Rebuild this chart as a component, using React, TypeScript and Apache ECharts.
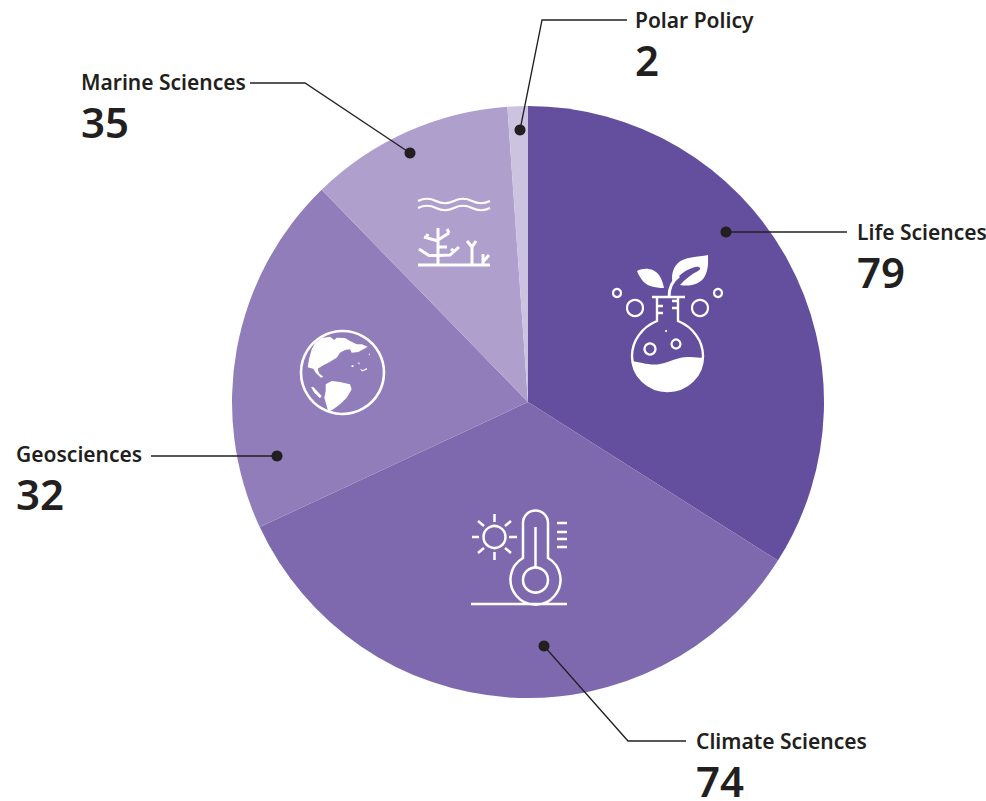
import React, { useEffect, useRef } from "react";
import * as echarts from "echarts";

const categories = ["Life Sciences", "Climate Sciences", "Geosciences", "Marine Sciences", "Polar Policy"];
// Numbers printed beside each slice.
const printedValues = [79, 74, 32, 35, 2];
// Slice sizes (degrees): the reference's wedges are not proportional to the printed numbers.
const sliceSpans = [122.4, 122.6, 70.8, 40.2, 4];
const sliceColors = ["#634f9d", "#7e69ae", "#907dba", "#ae9fcd", "#cbc3e0"];

const labelAnchors = [[857, 232], [696, 741], [16, 454], [81, 82], [635, 20]];
const leaders = [
  [[847, 232], [726, 232]],
  [[686, 741], [628, 741], [544, 646]],
  [[151, 456], [277, 456]],
  [[250, 83], [305, 83], [410, 153]],
  [[627, 20], [542, 20], [520, 130]],
];

const FONT = "'Noto Sans', 'Open Sans', sans-serif";
const INK = "#231f20";

const flaskFill = "M708 255 C698 257 684 257 678 263 C672 269 671 277 673 284 C677 276 685 270 695 267 C700 266 702 269 698 271 C692 274 685 279 680 285 C690 287 701 284 705 276 C709 268 708 260 708 255 Z " +
  "M637 271 C644 267 654 268 659 275 C662 279 663 284 664 288 C655 288 646 286 642 280 C640 277 638 274 637 271 Z " +
  "M632 361 C640 362 650 366 660 364 C670 362 680 356 690 357 C695 357 700 358 703 358 C702 376 686 391 667 391 C648 391 633 377 632 361 Z";
const flaskStroke = "M652 297 H685 M657 297 V321 C642 327 632 341 632 356 C632 376 648 391 667.5 391 C687 391 703 376 703 356 C703 341 693 327 678 321 V297 M657 306 H663 M657 313 H663 M678 301 H672 M678 308 H672";
const stemStroke = "M669 297 C669 288 672 281 679 276";
const thermoStroke = "M523 558 V523 A12.5 12.5 0 0 1 548 523 V558 A25 25 0 1 1 523 558 Z M535.5 527 V567 M471 604 H567 M557 523 H567 M557 532 H567 M557 539 H567 M557 547 H567 " +
  "M472 537 H479 M509 537 H517 M494.5 514 V522 M494.5 552 V560 M478 521 L484 526 M511 521 L505 526 M478 553 L484 548 M511 553 L505 548";
const globeLand = "M321.7 338 L330 336.7 L334.3 340 L336.7 337.7 L345 338 L350 341 L356.7 344.3 L361.7 344.3 L367.7 346.7 L363.3 349.3 L358.3 352 L351.7 352.7 L350 349.3 L345 350 L340 352.7 L336.7 357.7 L328.3 362.7 L323.3 365.3 L317.7 368.7 L319 373.3 L323.3 376.7 L321 377.7 L315.7 372.7 L313.3 368.7 L307.7 367.3 L309 359.3 L311.7 349.3 L315 343.3 Z " +
  "M325.7 384.3 L331.7 381 L340 382 L350 384.3 L351.7 389.3 L346.7 397.7 L340 404.3 L333.3 409.3 L328.3 412 L326.7 406 L324.3 397.7 L325.7 391 Z " +
  "M311 387 L313.3 387 L321.7 396 L320 398.3 L314.3 392.7 Z " +
  "M351.5 365.5 L353.5 365 L353.5 367 L351.5 367 Z M357.5 363 L359.5 362.5 L359.5 364.5 Z M360 369 L363 370 L367 368 L367 369.5 L362 371.5 Z M368.5 354 L370 353.5 L369.5 355.5 Z";
const wavesStroke = "M418 201 C424 198 430 198 436 201 C442 204 448 204 454 201 C460 198 466 198 472 201 C478 204 484 204 490 201 " +
  "M418 208 C424 205 430 205 436 208 C442 211 448 211 454 208 C460 205 466 205 472 208 C478 211 484 211 490 208";
const coralStroke = "M418 265 H490 M438 228 V265 M438 241 L424 237 M428 234 L426 238 M438 240 L449 233 M447 229 L449 233 M419 249 L429 255.5 L438 255.5 M438 247 L447 247 M438 255.5 L450 255 L459 247 M451 249 L455 252 M472 245 V265 M467 241 L472 247 L476 241 M483 254 V265 M489 255 L483 262";

echarts.graphic.registerShape("flaskFill", echarts.graphic.extendPath(flaskFill, {}));
echarts.graphic.registerShape("flaskStroke", echarts.graphic.extendPath(flaskStroke, {}));
echarts.graphic.registerShape("stemStroke", echarts.graphic.extendPath(stemStroke, {}));
echarts.graphic.registerShape("thermoStroke", echarts.graphic.extendPath(thermoStroke, {}));
echarts.graphic.registerShape("globeLand", echarts.graphic.extendPath(globeLand, {}));
echarts.graphic.registerShape("wavesStroke", echarts.graphic.extendPath(wavesStroke, {}));
echarts.graphic.registerShape("coralStroke", echarts.graphic.extendPath(coralStroke, {}));

const WHITE = "#ffffff";
const strokeStyle = (lineWidth: number) => ({ fill: "none", stroke: WHITE, lineWidth, lineCap: "butt" });
const ring = (cx: number, cy: number, r: number, lineWidth = 2.2) => ({
  type: "circle", z: 10, shape: { cx, cy, r }, style: { fill: "none", stroke: WHITE, lineWidth },
});

const icons: any[] = [
  { type: "flaskFill", z: 10, style: { fill: WHITE } },
  { type: "flaskStroke", z: 10, style: strokeStyle(2.4) },
  { type: "stemStroke", z: 10, style: strokeStyle(3) },
  ring(617, 293, 4), ring(718, 293, 4), ring(635, 308, 8), ring(700, 308, 8),
  ring(650, 349, 5.5), ring(676, 344, 4.5),
  { type: "circle", z: 10, shape: { cx: 666, cy: 331, r: 1 }, style: { fill: WHITE } },
  { type: "thermoStroke", z: 10, style: strokeStyle(2.5) },
  ring(535.5, 580, 12.5, 2.5), ring(494.5, 537, 11, 2.5),
  ring(342.5, 372.5, 41.5, 2.6),
  { type: "globeLand", z: 10, style: { fill: WHITE } },
  { type: "wavesStroke", z: 10, style: strokeStyle(2) },
  { type: "coralStroke", z: 10, style: strokeStyle(3) },
];

const leaderElements: any[] = leaders.flatMap((pts) => {
  const end = pts[pts.length - 1];
  return [
    { type: "polyline", z: 11, shape: { points: pts }, style: { fill: "none", stroke: INK, lineWidth: 1.3 } },
    { type: "circle", z: 12, shape: { cx: end[0], cy: end[1], r: 5.5 }, style: { fill: INK } },
  ];
});

const labelElements: any[] = categories.flatMap((name, i) => {
  const [x, y] = labelAnchors[i];
  return [
    { type: "text", z: 12, x, y, style: { text: name, fill: INK, fontFamily: FONT, fontWeight: 600, fontSize: 21, textAlign: "left", textVerticalAlign: "middle", verticalAlign: "middle" } },
    { type: "text", z: 12, x, y: y + 39, style: { text: String(printedValues[i]), fill: INK, fontFamily: FONT, fontWeight: 600, fontSize: 42, textAlign: "left", textVerticalAlign: "middle", verticalAlign: "middle" } },
  ];
});

export default function App() {
  const ref = useRef<HTMLDivElement>(null);
  useEffect(() => {
    const chart = echarts.init(ref.current!, undefined, { renderer: "svg" });
    chart.setOption({
      animation: false,
      backgroundColor: "#ffffff",
      series: [
        {
          type: "pie",
          center: [528, 402],
          radius: [0, 296],
          startAngle: 90,
          clockwise: true,
          sort: "none",
          silent: true,
          label: { show: false },
          labelLine: { show: false },
          data: categories.map((name, i) => ({
            name,
            value: sliceSpans[i],
            itemStyle: { color: sliceColors[i] },
          })),
        },
      ],
      graphic: { elements: [...icons, ...leaderElements, ...labelElements] },
    });
    return () => chart.dispose();
  }, []);
  return <div ref={ref} style={{ position: "fixed", left: 0, top: 0, width: 986, height: 801 }} />;
}
